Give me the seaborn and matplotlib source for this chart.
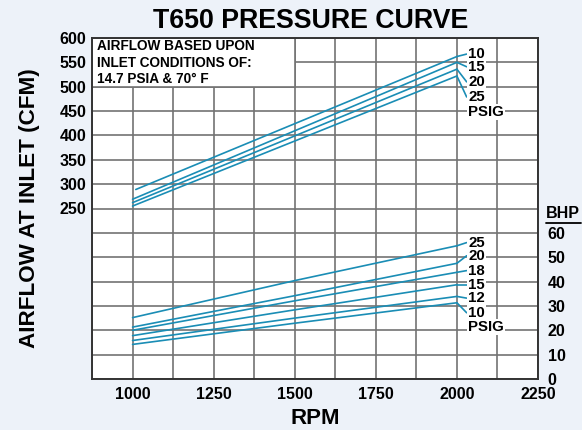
import numpy as np
import pandas as pd
import matplotlib
matplotlib.use("Agg")
import matplotlib.pyplot as plt
from matplotlib.patches import Rectangle
from matplotlib.lines import Line2D
import seaborn as sns

# Datos
PSIG_AIRE = ["10", "15", "20", "25"]
RPM_INICIO_AIRE = [1010, 1000, 1000, 1000]
CFM_1000 = [289, 269, 262, 255]
CFM_2000 = [562, 550, 536, 522]
CFM_ETIQUETA = [567, 541, 510, 479]

PSIG_BHP = ["25", "20", "18", "15", "12", "10"]
RPM_BHP = [1000, 1500, 2000]
BHP_VALORES = [
    [25.2, 40.4, 54.7],
    [21.3, 34.2, 47.5],
    [20.0, 32.1, 43.8],
    [17.8, 28.4, 38.7],
    [15.8, 25.0, 33.9],
    [14.2, 22.9, 31.3],
]
BHP_ETIQUETA = [56.0, 50.6, 44.5, 38.7, 33.2, 27.2]

X_TICKS = [1000, 1250, 1500, 1750, 2000, 2250]
Y_TICKS = [250, 300, 350, 400, 450, 500, 550, 600]
BHP_TICKS = [0, 10, 20, 30, 40, 50, 60]

AZUL = "#1a8db5"
GRIS = "#737373"
FONDO = "#edf2f9"

sns.set_theme(style="white")
plt.rcParams["font.family"] = ["Liberation Sans", "DejaVu Sans"]
plt.rcParams["font.weight"] = "bold"
for k in ["text.color", "axes.labelcolor", "xtick.color", "ytick.color"]:
    plt.rcParams[k] = "black"

aire = pd.DataFrame({
    "rpm": RPM_INICIO_AIRE + [2000] * 4,
    "cfm": CFM_1000 + CFM_2000,
    "psig": PSIG_AIRE * 2,
})
bhp = pd.DataFrame([
    {"rpm": r, "bhp": v, "psig": p}
    for p, vals in zip(PSIG_BHP, BHP_VALORES)
    for r, v in zip(RPM_BHP, vals)
])

fig = plt.figure(figsize=(5.82, 4.30), dpi=100, facecolor=FONDO)
ax = fig.add_axes([92 / 582, 51 / 430, 446 / 582, 341 / 430])
ax.set_facecolor("white")

# Rejilla
ax.set_xlim(875, 2250)
ax.set_ylim(-100, 600)
ax.set_xticks(X_TICKS)
ax.set_xticks(np.arange(875, 2250, 250), minor=True)
ax.set_yticks(Y_TICKS)
ax.set_yticks(np.arange(-100, 250, 50), minor=True)
ax.grid(True, which="both", color=GRIS, linewidth=1.2)
ax.set_axisbelow(True)
ax.tick_params(which="both", length=0)
ax.tick_params(axis="x", pad=6, labelsize=11.5)
ax.tick_params(axis="y", pad=4, labelsize=11.5)
for s in ax.spines.values():
    s.set_color("#333333")
    s.set_linewidth(1.4)

# Caja de condiciones
ax.add_patch(Rectangle((875, 500), 625, 100, facecolor="white",
                       edgecolor=GRIS, linewidth=1.2, zorder=1))
ax.text(889, 597, "AIRFLOW BASED UPON\nINLET CONDITIONS OF:\n14.7 PSIA & 70° F",
        fontsize=9.8, fontweight="bold", va="top", ha="left",
        linespacing=1.2, zorder=2)

# Curvas de caudal
sns.lineplot(data=aire, x="rpm", y="cfm", units="psig", estimator=None,
             color=AZUL, linewidth=1.2, ax=ax, zorder=3)
caja = dict(facecolor="white", edgecolor="none", pad=0.6)
for p, v, e in zip(PSIG_AIRE, CFM_2000, CFM_ETIQUETA):
    ax.plot([2000, 2030], [v, e], color=AZUL, linewidth=1.2, zorder=3)
    ax.text(2035, e, p, fontsize=10.8, fontweight="bold", va="center",
            ha="left", bbox=caja, zorder=4)
ax.text(2035, CFM_ETIQUETA[-1] - 31, "PSIG", fontsize=10.8, fontweight="bold",
        va="center", ha="left", bbox=caja, zorder=4)

ax.set_xlabel("RPM", fontsize=16, fontweight="bold", labelpad=4)
ax.set_ylabel("AIRFLOW AT INLET (CFM)", fontsize=16.2, fontweight="bold", labelpad=14)
ax.set_title("T650 PRESSURE CURVE", fontsize=19.3, fontweight="bold", pad=7,
             x=0.49)

# Eje de potencia
ax2 = ax.twinx()
ax2.set_ylim(0, 140)
ax2.set_yticks(BHP_TICKS)
ax2.tick_params(length=0, pad=7, labelsize=11.5)
ax2.grid(False)
for s in ax2.spines.values():
    s.set_visible(False)
sns.lineplot(data=bhp, x="rpm", y="bhp", units="psig", estimator=None,
             color=AZUL, linewidth=1.2, ax=ax2, zorder=3)
ultimo = [vals[-1] for vals in BHP_VALORES]
for p, v, e in zip(PSIG_BHP, ultimo, BHP_ETIQUETA):
    ax2.plot([2000, 2030], [v, e], color=AZUL, linewidth=1.2, zorder=3)
    ax2.text(2035, e, p, fontsize=10.8, fontweight="bold", va="center",
             ha="left", bbox=caja, zorder=4)
ax2.text(2035, BHP_ETIQUETA[-1] - 5.9, "PSIG", fontsize=10.8, fontweight="bold",
         va="center", ha="left", bbox=caja, zorder=4)
ax2.set_ylabel("")
ax.set_xlabel("RPM", fontsize=16, fontweight="bold", labelpad=4)

fig.text(546 / 582, 1 - 214 / 430, "BHP", fontsize=11.5, fontweight="bold",
         va="center", ha="left")
fig.add_artist(Line2D([546 / 582, 581 / 582], [1 - 223 / 430, 1 - 223 / 430],
                      color="black", linewidth=1.3))

fig.savefig("out.png", dpi=100, facecolor=FONDO)
